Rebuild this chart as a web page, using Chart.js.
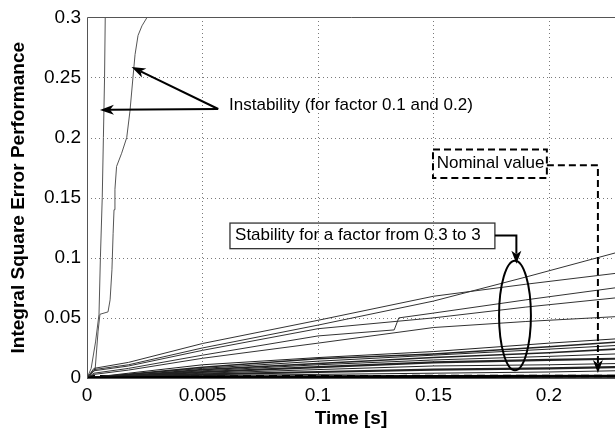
<!DOCTYPE html>
<html>
<head>
<meta charset="utf-8">
<script src="https://cdn.jsdelivr.net/npm/chart.js@4.4.1/dist/chart.umd.min.js"></script>
<style>
  html, body { margin: 0; padding: 0; background: #fff; }
  canvas { display: block; }
</style>
</head>
<body>
<canvas id="ise" width="615" height="437"></canvas>
<script>
// Axis ticks
const xTickValues = [0, 0.05, 0.1, 0.15, 0.2];
const xTickLabels = ['0', '0.005', '0.1', '0.15', '0.2'];
const yTickValues = [0, 0.05, 0.1, 0.15, 0.2, 0.25, 0.3];
const yTickLabels = ['0', '0.05', '0.1', '0.15', '0.2', '0.25', '0.3'];
const timeMax = 0.2286;

// Unstable runs [time, ISE]
const instabilityFactor01 = [[0, 0], [0.0018, 0.008], [0.0037, 0.03], [0.0052, 0.053], [0.0058, 0.1],
  [0.0066, 0.15], [0.0071, 0.2], [0.0076, 0.25], [0.0079, 0.3], [0.008, 0.31]];
const instabilityFactor02 = [[0, 0], [0.0035, 0.0066], [0.0048, 0.039], [0.0056, 0.053], [0.0091, 0.055],
  [0.0100, 0.065], [0.0108, 0.09], [0.0113, 0.12], [0.0117, 0.14], [0.0121, 0.157], [0.0128, 0.176],
  [0.015, 0.187], [0.0172, 0.2], [0.0186, 0.222], [0.0199, 0.25], [0.0208, 0.269], [0.0221, 0.285],
  [0.0238, 0.293], [0.026, 0.3], [0.0281, 0.306]];

// Stable runs, upper bundle
const stableA = [[0, 0], [0.003, 0.007], [0.018, 0.011], [0.05, 0.025], [0.1, 0.044], [0.15, 0.064], [0.19, 0.084], [0.2286, 0.104]];
const stableB = [[0, 0], [0.003, 0.008], [0.018, 0.013], [0.05, 0.0287], [0.1, 0.048], [0.15, 0.068], [0.19, 0.078], [0.2286, 0.087]];
const stableC = [[0, 0], [0.003, 0.004], [0.018, 0.008], [0.05, 0.019], [0.1, 0.035], [0.133, 0.040], [0.135, 0.050], [0.15, 0.054], [0.19, 0.065], [0.2286, 0.075]];
const stableD = [[0, 0], [0.003, 0.006], [0.018, 0.010], [0.05, 0.023], [0.1, 0.041], [0.15, 0.050], [0.19, 0.059], [0.2286, 0.0666]];
const stableE = [[0, 0], [0.003, 0.003], [0.018, 0.0066], [0.05, 0.0164], [0.1, 0.029], [0.15, 0.042], [0.19, 0.047], [0.2286, 0.051]];

// Stable runs, lower bundle
const stableF = [[0, 0], [0.018, 0.004], [0.05, 0.011], [0.1, 0.017], [0.15, 0.022], [0.2, 0.029], [0.2286, 0.0325]];
const stableG = [[0, 0], [0.018, 0.003], [0.05, 0.009], [0.1, 0.016], [0.15, 0.020], [0.2, 0.026], [0.2286, 0.0298]];
const stableH = [[0, 0], [0.018, 0.003], [0.05, 0.008], [0.1, 0.014], [0.15, 0.019], [0.2, 0.024], [0.2286, 0.027]];
const stableI = [[0, 0], [0.018, 0.002], [0.05, 0.007], [0.1, 0.012], [0.15, 0.017], [0.2, 0.021], [0.2286, 0.024]];
const stableJ = [[0, 0], [0.018, 0.002], [0.05, 0.006], [0.1, 0.011], [0.15, 0.015], [0.2, 0.018], [0.2286, 0.020]];
const stableK = [[0, 0], [0.018, 0.0015], [0.05, 0.005], [0.1, 0.009], [0.15, 0.013], [0.2, 0.015], [0.2286, 0.016]];
const stableL = [[0, 0], [0.018, 0.001], [0.05, 0.004], [0.1, 0.007], [0.15, 0.010], [0.2, 0.011], [0.2286, 0.012]];
const stableM = [[0, 0], [0.018, 0.001], [0.05, 0.003], [0.1, 0.005], [0.15, 0.007], [0.2, 0.008], [0.2286, 0.009]];
const stableN = [[0, 0], [0.018, 0.0005], [0.05, 0.002], [0.1, 0.003], [0.15, 0.004], [0.2, 0.005], [0.2286, 0.006]];
const stableO = [[0, 0], [0.05, 0.0007], [0.1, 0.001], [0.15, 0.0012], [0.2286, 0.0014]];

// Nominal controller
const nominalValue = [[0, 0.0015], [0.2286, 0.0016]];

const FONT = 'Liberation Sans, Arial, Helvetica, sans-serif';

function series(pairs, color, width, dash) {
  return {
    data: pairs.map(([x, y]) => ({ x, y })),
    borderColor: color,
    borderWidth: width,
    borderDash: dash || [],
    pointRadius: 0,
    pointHoverRadius: 0,
    showLine: true,
    fill: false,
    tension: 0
  };
}

// Dotted grid and solid frame drawn from the scales' tick positions
const gridPlugin = {
  id: 'matlabGrid',
  beforeDatasetsDraw(chart) {
    const { ctx, chartArea: a, scales: { x, y } } = chart;
    ctx.save();
    ctx.strokeStyle = '#7a7a7a';
    ctx.lineWidth = 1;
    ctx.setLineDash([1, 3]);
    xTickValues.slice(1).forEach(v => {
      const px = Math.round(x.getPixelForValue(v)) + 0.5;
      ctx.beginPath(); ctx.moveTo(px, a.bottom); ctx.lineTo(px, a.top); ctx.stroke();
    });
    yTickValues.slice(1, -1).forEach(v => {
      const py = Math.round(y.getPixelForValue(v)) + 0.5;
      ctx.beginPath(); ctx.moveTo(a.left, py); ctx.lineTo(a.right, py); ctx.stroke();
    });
    ctx.restore();
  },
  afterDatasetsDraw(chart) {
    const { ctx, chartArea: a } = chart;
    ctx.save();
    ctx.strokeStyle = '#555';
    ctx.lineWidth = 1;
    ctx.beginPath();
    ctx.moveTo(Math.round(a.left) + 0.5, a.bottom);
    ctx.lineTo(Math.round(a.left) + 0.5, Math.round(a.top) + 0.5);
    ctx.lineTo(a.right, Math.round(a.top) + 0.5);
    ctx.stroke();
    ctx.beginPath();
    ctx.moveTo(a.left, Math.round(a.bottom) + 0.5);
    ctx.lineTo(a.right, Math.round(a.bottom) + 0.5);
    ctx.stroke();
    ctx.restore();
  }
};

function arrowHead(ctx, x0, y0, x1, y1, len, half) {
  const ang = Math.atan2(y1 - y0, x1 - x0);
  const c = Math.cos(ang), s = Math.sin(ang);
  const bx = x1 - c * len, by = y1 - s * len;
  const nx = x1 - c * len * 0.72, ny = y1 - s * len * 0.72;
  ctx.save();
  ctx.setLineDash([]);
  ctx.beginPath();
  ctx.moveTo(x1, y1);
  ctx.lineTo(bx - s * half, by + c * half);
  ctx.lineTo(nx, ny);
  ctx.lineTo(bx + s * half, by - c * half);
  ctx.closePath();
  ctx.fill();
  ctx.restore();
  return [nx, ny];
}

// Callouts: text boxes, arrows and the ellipse around the stable bundle
const calloutPlugin = {
  id: 'callouts',
  afterDraw(chart) {
    const { ctx, scales: { x, y } } = chart;
    const X = v => x.getPixelForValue(v);
    const Y = v => y.getPixelForValue(v);
    ctx.save();
    ctx.fillStyle = '#000';
    ctx.strokeStyle = '#000';
    ctx.font = '17px ' + FONT;
    ctx.textBaseline = 'middle';
    ctx.textAlign = 'left';

    // Instability label and its two arrows
    ctx.fillText('Instability (for factor 0.1 and 0.2)', X(0.0615), Y(0.227));
    ctx.lineWidth = 2;
    [[0.0056, 0.223], [0.0193, 0.2588]].forEach(([tx, ty]) => {
      const x0 = X(0.0568), y0 = Y(0.2238), x1 = X(tx), y1 = Y(ty);
      const [nx, ny] = arrowHead(ctx, x0, y0, x1, y1, 14, 5);
      ctx.beginPath(); ctx.moveTo(x0, y0); ctx.lineTo(nx, ny); ctx.stroke();
    });

    // Nominal value box, dashed leader
    ctx.setLineDash([7, 4]);
    ctx.lineWidth = 2;
    ctx.strokeRect(X(0.1498), Y(0.1902), X(0.1991) - X(0.1498), Y(0.1664) - Y(0.1902));
    ctx.fillText('Nominal value', X(0.1514), Y(0.1783));
    ctx.beginPath();
    ctx.moveTo(X(0.1991), Y(0.1771));
    ctx.lineTo(X(0.2212), Y(0.1771));
    ctx.lineTo(X(0.2212), Y(0.0041) - 10);
    ctx.stroke();
    arrowHead(ctx, X(0.2212), Y(0.1), X(0.2212), Y(0.0041), 13, 5);
    ctx.setLineDash([]);

    // Stability box, leader and ellipse
    ctx.lineWidth = 1.3;
    ctx.strokeStyle = '#333';
    ctx.strokeRect(X(0.0619), Y(0.1289), X(0.1766) - X(0.0619), Y(0.1076) - Y(0.1289));
    ctx.fillText('Stability for a factor from 0.3 to 3', X(0.0641), Y(0.1183));
    ctx.strokeStyle = '#000';
    ctx.lineWidth = 2;
    ctx.beginPath();
    ctx.moveTo(X(0.1766), Y(0.1186));
    ctx.lineTo(X(0.1859), Y(0.1186));
    ctx.lineTo(X(0.1859), Y(0.0951) - 10);
    ctx.stroke();
    arrowHead(ctx, X(0.1859), Y(0.12), X(0.1859), Y(0.0951), 13, 5);
    ctx.beginPath();
    ctx.ellipse(X(0.1853), Y(0.052), X(0.0069) - X(0), Y(0) - Y(0.0455), 0, 0, Math.PI * 2);
    ctx.stroke();
    ctx.restore();
  }
};

const upper = '#333';
const lower = '#222';
const datasets = [
  series(stableO, '#000', 3),
  series(stableN, lower, 1), series(stableM, lower, 2.2), series(stableL, lower, 1),
  series(stableK, lower, 2.2), series(stableJ, lower, 1), series(stableI, lower, 1.6),
  series(stableH, lower, 1), series(stableG, lower, 1.6), series(stableF, lower, 1),
  series(stableE, upper, 1), series(stableD, upper, 1), series(stableC, upper, 1),
  series(stableB, upper, 1), series(stableA, upper, 1),
  series(instabilityFactor02, '#555', 1), series(instabilityFactor01, '#555', 1),
  series(nominalValue, '#000', 2.5, [8, 5])
];

new Chart(document.getElementById('ise'), {
  type: 'scatter',
  data: { datasets },
  options: {
    responsive: false,
    animation: false,
    events: [],
    layout: { padding: { top: 12, left: 0, right: 0, bottom: 0 } },
    plugins: { legend: { display: false }, tooltip: { enabled: false } },
    scales: {
      x: {
        type: 'linear',
        min: 0,
        max: timeMax,
        afterBuildTicks: s => { s.ticks = xTickValues.map(v => ({ value: v })); },
        afterFit: s => { s.height = 59; },
        grid: { display: false, drawTicks: false },
        border: { display: false },
        ticks: {
          autoSkip: false, maxRotation: 0, padding: 6, color: '#000',
          font: { family: FONT, size: 19 },
          callback: (v, i) => xTickLabels[i]
        },
        title: {
          display: true, text: 'Time [s]', color: '#000',
          font: { family: FONT, size: 19, weight: 'bold' },
          padding: { top: 0, bottom: 7 }
        }
      },
      y: {
        type: 'linear',
        min: 0,
        max: 0.3,
        afterBuildTicks: s => { s.ticks = yTickValues.map(v => ({ value: v })); },
        afterFit: s => { s.width = 87; },
        grid: { display: false, drawTicks: false },
        border: { display: false },
        ticks: {
          autoSkip: false, padding: 6, color: '#000',
          font: { family: FONT, size: 19 },
          callback: (v, i) => yTickLabels[i]
        },
        title: {
          display: true, text: 'Integral Square Error Performance', color: '#000',
          font: { family: FONT, size: 19, weight: 'bold' },
          padding: { top: 7, bottom: 0 }
        }
      }
    }
  },
  plugins: [gridPlugin, calloutPlugin]
});
</script>
</body>
</html>
